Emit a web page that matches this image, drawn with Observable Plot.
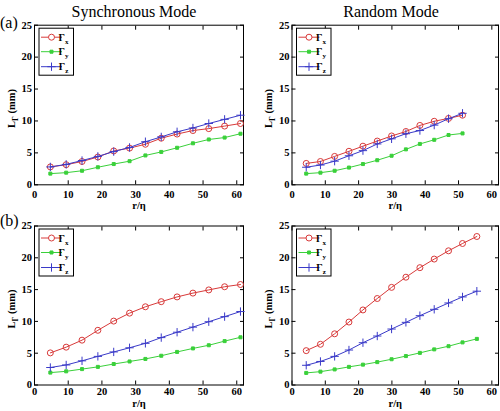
<!DOCTYPE html>
<html><head><meta charset="utf-8">
<script src="https://cdn.jsdelivr.net/npm/d3@7"></script>
<script src="https://cdn.jsdelivr.net/npm/@observablehq/plot@0.6"></script>
<style>
body{margin:0;background:#fff;}
#wrap{position:relative;width:500px;height:411px;overflow:hidden;}
</style></head><body><div id="wrap"></div>
<script>
// r/eta sample positions
const rSync = [4.7, 9.4, 14.1, 18.8, 23.5, 28.2, 32.9, 37.6, 42.3, 47.0, 51.7, 56.4, 61.1];
const rRandA = [4.27, 8.54, 12.8, 17.1, 21.3, 25.6, 29.9, 34.2, 38.4, 42.7, 47.0, 51.2];
const rRandB = [4.27, 8.54, 12.8, 17.1, 21.3, 25.6, 29.9, 34.2, 38.4, 42.7, 47.0, 51.2, 55.5];
// (a) Synchronous
const aSyncGx = [2.8, 3.15, 3.65, 4.35, 5.3, 5.75, 6.35, 7.3, 7.95, 8.5, 8.8, 9.2, 9.6];
const aSyncGy = [1.75, 1.9, 2.2, 2.75, 3.25, 3.7, 4.6, 5.15, 5.8, 6.5, 7.1, 7.4, 8.0];
const aSyncGz = [2.8, 3.2, 3.8, 4.45, 5.2, 5.85, 6.75, 7.5, 8.3, 8.9, 9.6, 10.25, 10.9];
// (a) Random
const aRandGx = [3.35, 3.65, 4.45, 5.25, 6.05, 6.85, 7.65, 8.35, 9.3, 9.95, 10.4, 10.9];
const aRandGy = [1.75, 1.9, 2.2, 2.7, 3.25, 3.85, 4.55, 5.55, 6.4, 7.05, 7.8, 8.05];
const aRandGz = [2.75, 3.1, 3.7, 4.55, 5.35, 6.4, 7.2, 8.0, 8.5, 9.35, 10.35, 11.2];
// (b) Synchronous
const bSyncGx = [5.05, 5.95, 7.05, 8.6, 10.05, 11.3, 12.3, 13.1, 13.85, 14.45, 14.95, 15.45, 15.8];
const bSyncGy = [1.95, 2.15, 2.5, 2.85, 3.3, 3.7, 4.1, 4.6, 5.2, 5.75, 6.25, 6.9, 7.5];
const bSyncGz = [2.75, 3.15, 3.8, 4.5, 5.2, 5.85, 6.55, 7.45, 8.3, 9.1, 9.95, 10.75, 11.55];
// (b) Random
const bRandGx = [5.4, 6.4, 8.05, 9.9, 11.8, 13.6, 15.35, 16.95, 18.45, 19.8, 21.1, 22.25, 23.35];
const bRandGy = [1.9, 2.1, 2.45, 2.85, 3.2, 3.6, 4.05, 4.55, 5.05, 5.6, 6.1, 6.7, 7.25];
const bRandGz = [3.1, 3.7, 4.5, 5.5, 6.65, 7.7, 8.8, 9.85, 10.9, 11.9, 12.9, 13.85, 14.75];

const xTicks = [0, 10, 20, 30, 40, 50, 60];
const yTicks = [0, 5, 10, 15, 20, 25];
const seriesNames = ["x", "y", "z"];
const colors = ["#d83a3a", "#3ad03a", "#3a3ac8"];
const symbols = ["circle", "square", "plus"];
const titles = ["Synchronous Mode", "Random Mode"];
const rowLabels = ["(a)", "(b)"];
const xLabel = "r/\u03b7";
const FONT = "'Liberation Serif', 'DejaVu Serif', serif";

const wrap = document.getElementById("wrap");

function panel(opts) {
  const {left, top, width, height, mL, mR, mT, mB, r, vals, tPad, lOff} = opts;
  const marks = [
    Plot.frame({stroke: "black", strokeWidth: 1}),
    Plot.axisX({ticks: xTicks, tickSize: -4, tickPadding: tPad, fontSize: 10.5, fontWeight: "bold",
      label: xLabel, labelAnchor: "center", labelOffset: lOff, labelArrow: "none"}),
    Plot.axisX({anchor: "top", ticks: xTicks, tickSize: -4, tickFormat: () => "", label: null}),
    Plot.axisY({ticks: yTicks, tickSize: -4, tickPadding: 6.5, fontSize: 10.5, fontWeight: "bold", label: null}),
    Plot.axisY({anchor: "right", ticks: yTicks, tickSize: -4, tickFormat: () => "", label: null})
  ];
  vals.forEach((v, i) => {
    const data = r.map((d, j) => ({r: d, v: v[j]}));
    marks.push(Plot.line(data, {x: "r", y: "v", stroke: colors[i], strokeWidth: 1}));
    marks.push(Plot.dot(data, {x: "r", y: "v", stroke: colors[i],
      fill: i === 1 ? colors[i] : "none",
      symbol: symbols[i], r: i === 0 ? 3 : (i === 1 ? 1.7 : 2.8), strokeWidth: 1}));
  });
  const svg = Plot.plot({
    width, height, marginLeft: mL, marginRight: mR, marginTop: mT, marginBottom: mB,
    x: {domain: [0, 62]},
    y: {domain: [0, 25]},
    style: {background: "transparent", overflow: "visible", fontFamily: FONT, fontSize: "10.5px", color: "black"},
    marks
  });
  svg.style.position = "absolute";
  svg.style.left = left + "px";
  svg.style.top = top + "px";
  const s = d3.select(svg);
  // y label with subscript
  const fTop = mT, fBot = height - mB;
  const yl = s.append("text")
    .attr("transform", `translate(${mL - 19.5},${(fTop + fBot) / 2 + 4}) rotate(-90)`)
    .attr("text-anchor", "middle")
    .style("font-family", FONT).attr("font-weight", "bold").attr("font-size", 10.5)
    .attr("fill", "black");
  yl.append("tspan").text("L");
  yl.append("tspan").attr("font-size", 7.5).attr("dy", 3).text("\u0393");
  yl.append("tspan").attr("dy", -3).text(" (mm)");
  // legend
  const bx = mL + 5, by = mT + 3.5;
  const g = s.append("g");
  g.append("rect").attr("x", bx).attr("y", by).attr("width", 34.5).attr("height", 47)
    .attr("fill", "white").attr("stroke", "black").attr("stroke-width", 1);
  const rows = [9, 23.5, 38.5];
  seriesNames.forEach((n, i) => {
    const yy = by + rows[i];
    g.append("line").attr("x1", bx + 2).attr("x2", bx + 23).attr("y1", yy).attr("y2", yy)
      .attr("stroke", colors[i]).attr("stroke-width", 1);
    let path;
    if (i === 0) path = d3.symbol(d3.symbolCircle, Math.PI * 9)();
    else if (i === 1) path = d3.symbol(d3.symbolSquare, Math.PI * 1.7 * 1.7)();
    else path = d3.symbol(d3.symbolPlus, Math.PI * 2.8 * 2.8)();
    g.append("path").attr("d", path).attr("transform", `translate(${bx + 12.5},${yy})`)
      .attr("stroke", colors[i]).attr("fill", i === 0 ? "white" : (i === 1 ? colors[i] : "none")).attr("stroke-width", 1);
    const t = g.append("text").attr("x", bx + 24.5).attr("y", yy + 3.5)
      .style("font-family", FONT).attr("font-weight", "bold").attr("font-size", 10)
      .attr("fill", "black");
    t.append("tspan").text("\u0393");
    t.append("tspan").attr("font-size", 7).attr("dy", 3).text(n);
  });
  wrap.appendChild(svg);
}

const W = 250;
panel({left: 0, top: 0, width: W, height: 212, mL: 34, mR: 7, mT: 24.7, mB: 212 - 184.3, r: rSync, vals: [aSyncGx, aSyncGy, aSyncGz], tPad: 9.5, lOff: 24});
panel({left: 250, top: 0, width: W, height: 212, mL: 41.5, mR: 2, mT: 24.7, mB: 212 - 184.3, r: rRandA, vals: [aRandGx, aRandGy, aRandGz], tPad: 9.5, lOff: 24});
panel({left: 0, top: 200, width: W, height: 211, mL: 34, mR: 7, mT: 25.5, mB: 211 - 184.5, r: rSync, vals: [bSyncGx, bSyncGy, bSyncGz], tPad: 7, lOff: 21.5});
panel({left: 250, top: 200, width: W, height: 211, mL: 41.5, mR: 2, mT: 25.5, mB: 211 - 184.5, r: rRandB, vals: [bRandGx, bRandGy, bRandGz], tPad: 7, lOff: 21.5});

// titles and panel tags as SVG text overlay
const ov = d3.select(wrap).append("svg")
  .attr("width", 500).attr("height", 411)
  .style("position", "absolute").style("left", "0px").style("top", "0px")
  .style("pointer-events", "none").style("overflow", "visible");
function addText(txt, x, y, anchor) {
  ov.append("text").attr("x", x).attr("y", y).attr("text-anchor", anchor)
    .style("font-family", FONT).attr("font-size", 16).attr("fill", "black").text(txt);
}
addText(titles[0], 134, 17, "middle");
addText(titles[1], 391, 17, "middle");
addText(rowLabels[0], 0, 28, "start");
addText(rowLabels[1], 0, 225.5, "start");
</script></body></html>
